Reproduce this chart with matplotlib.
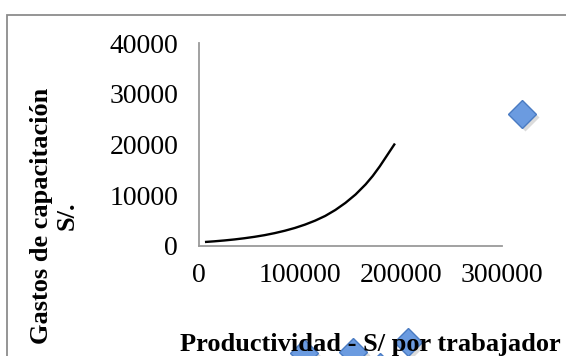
import matplotlib.pyplot as plt
import matplotlib.transforms as mtransforms
from matplotlib.patches import Rectangle

# productivity (S/ per worker) vs training spend (S/.)
prod_pts = [320000, 104000, 152500, 179000, 207000]
gasto_pts = [26000, -21100, -20900, -23800, -18900]

# exponential trend line
trend_x = [5900, 15000, 25000, 35000, 45000, 55000, 65000, 75000, 85000,
           95000, 105000, 115000, 125000, 135000, 145000, 155000, 165000,
           172000, 179000, 186000, 190000, 194000]
trend_y = [790, 920, 1090, 1290, 1530, 1810, 2140, 2540, 3010,
           3560, 4220, 5000, 5930, 7100, 8500, 10150, 12150,
           13800, 15700, 17800, 19000, 20200]

xticks = [0, 100000, 200000, 300000]
yticks = [0, 10000, 20000, 30000, 40000]

plt.rcParams['font.family'] = ['Liberation Serif', 'DejaVu Serif']

fig = plt.figure(figsize=(5.66, 3.56), dpi=100)
ax = fig.add_axes([0.3516, 0.309, 0.5353, 0.570])

ax.plot(trend_x, trend_y, color='black', lw=1.7, solid_capstyle='butt')

# soft drop shadow under the diamonds
shadow = mtransforms.offset_copy(ax.transData, fig=fig, x=2, y=-2, units='points')
ax.plot(prod_pts, gasto_pts, 'D', ms=14, color='#999999', alpha=0.35,
        mec='none', transform=shadow, clip_on=False)
ax.plot(prod_pts, gasto_pts, 'D', ms=14, mfc='#6b9be0', mec='#4a7bc2',
        mew=1.0, clip_on=False)

ax.set_xlim(0, 300000)
ax.set_ylim(0, 40000)
ax.set_xticks(xticks)
ax.set_yticks(yticks)
ax.set_xticklabels([str(v) for v in xticks])
ax.set_yticklabels([str(v) for v in yticks])
ax.tick_params(length=0, labelsize=20, colors='black')
ax.tick_params(axis='x', pad=12)
ax.tick_params(axis='y', pad=15)
for side in ('top', 'right'):
    ax.spines[side].set_visible(False)
for side in ('left', 'bottom'):
    ax.spines[side].set_color('#9a9a9a')
    ax.spines[side].set_linewidth(1.3)

fig.text(370 / 566, 1 - 344 / 356, 'Productividad - S/ por trabajador',
         ha='center', va='center', fontsize=19, fontweight='bold', zorder=5)
fig.text(54 / 566, 1 - 216 / 356, 'Gastos de capacitación\nS/.',
         ha='center', va='center', rotation=90, fontsize=19,
         fontweight='bold', linespacing=1.15, zorder=5)

# chart area border
fig.patches.append(Rectangle((6.5 / 566, -0.1), 1.0, 1 - 14.5 / 356 + 0.1,
                             transform=fig.transFigure, fill=False,
                             edgecolor='#8c8c8c', lw=1.3))

fig.savefig('out.png', dpi=100)
